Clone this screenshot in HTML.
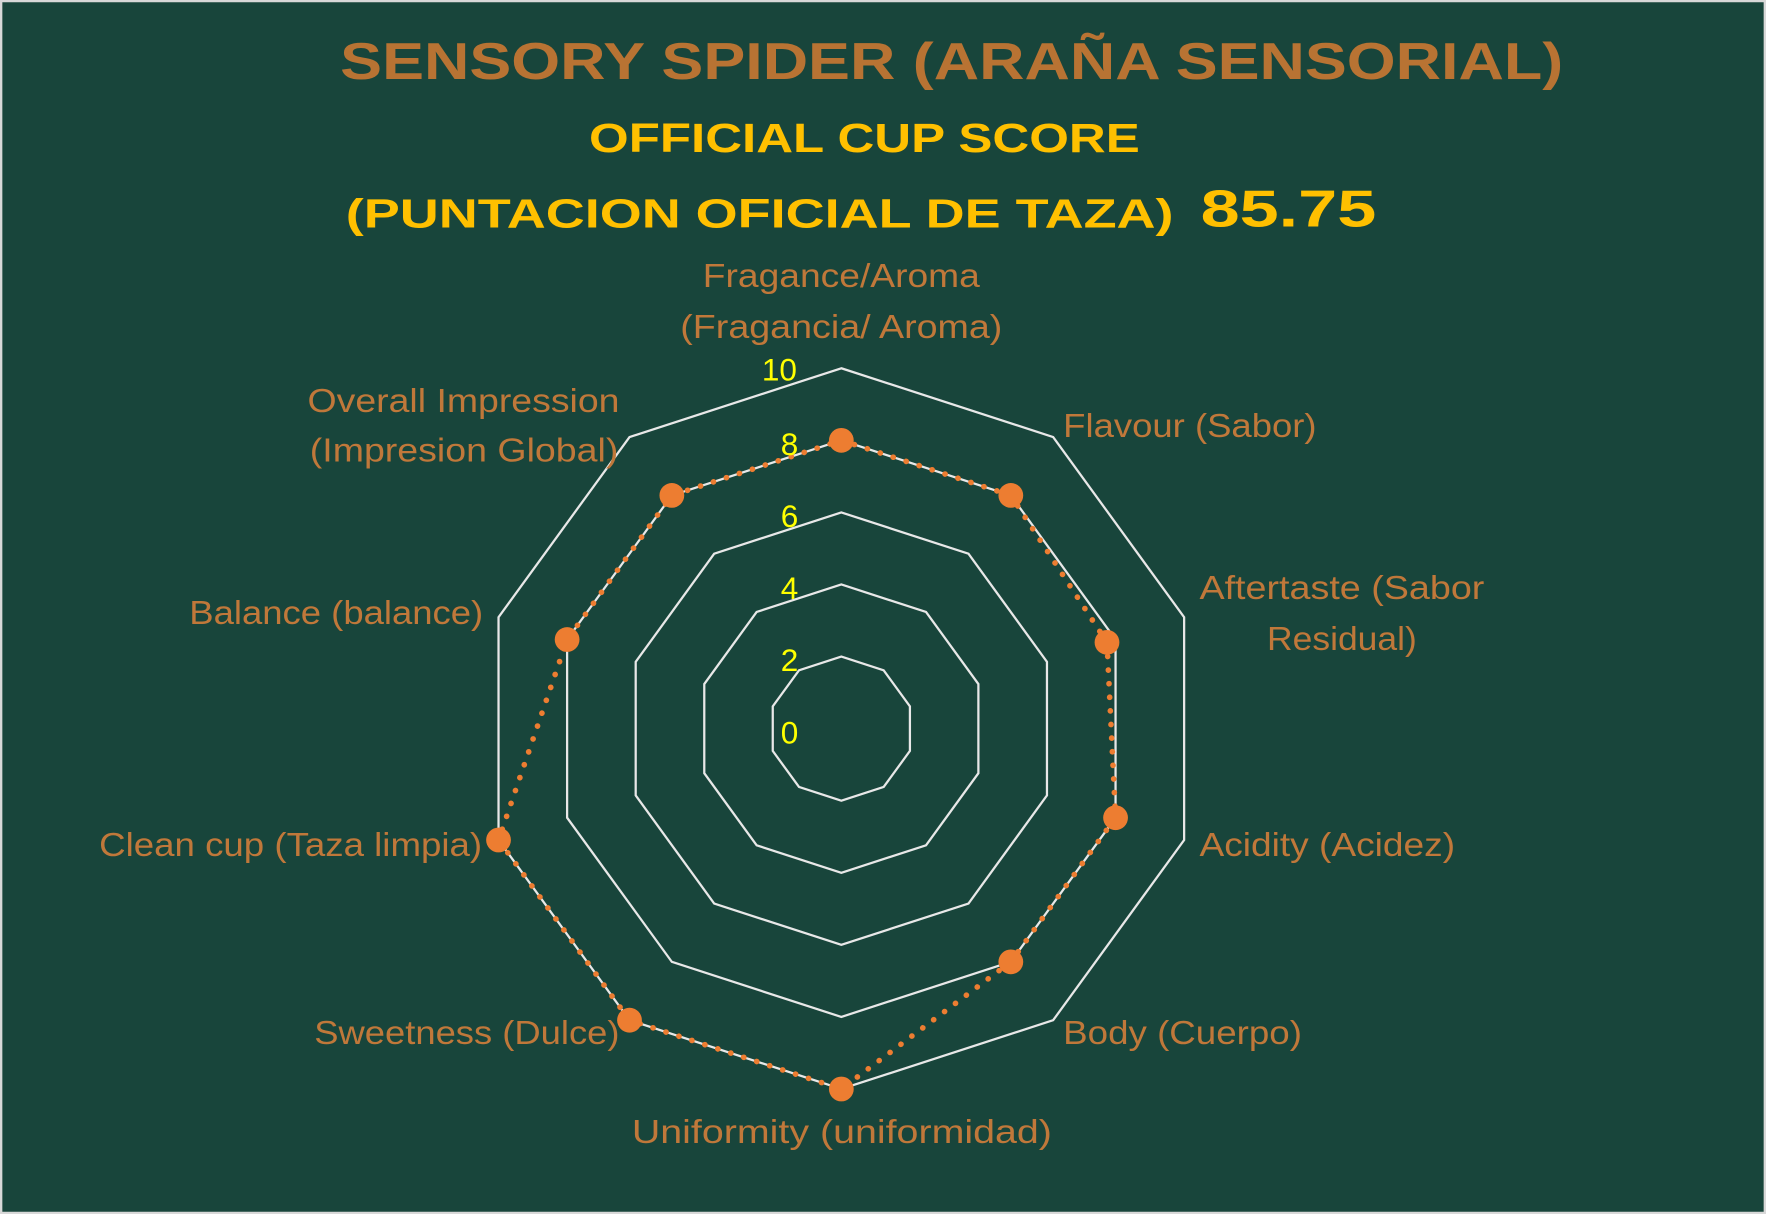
<!DOCTYPE html>
<html><head><meta charset="utf-8"><style>
html,body{margin:0;padding:0;background:#18453B;}
svg{display:block;}
</style></head><body>
<svg width="1766" height="1214" viewBox="0 0 1568 1078" xmlns="http://www.w3.org/2000/svg" font-family="'Liberation Sans', sans-serif">
<rect x="0" y="0" width="1568" height="1078" fill="#18453B" stroke="#d8d8d8" stroke-width="4"/>
<text x="302" y="70" font-size="46" font-weight="bold" fill="#B87333" textLength="1086" lengthAdjust="spacingAndGlyphs">SENSORY SPIDER (ARAÑA SENSORIAL)</text>
<text x="523" y="135" font-size="36" font-weight="bold" fill="#FFC000" textLength="489" lengthAdjust="spacingAndGlyphs">OFFICIAL CUP SCORE</text>
<text x="307" y="202" font-size="36" font-weight="bold" fill="#FFC000" textLength="735" lengthAdjust="spacingAndGlyphs">(PUNTACION OFICIAL DE TAZA)</text>
<text x="1066" y="201" font-size="46" font-weight="bold" fill="#FFC000" textLength="156" lengthAdjust="spacingAndGlyphs">85.75</text>
<g fill="none" stroke="#e8e8e8" stroke-width="2">
<polygon points="747,583 784.6,595.2 807.9,627.2 807.9,666.8 784.6,698.8 747,711 709.4,698.8 686.1,666.8 686.1,627.2 709.4,595.2"/>
<polygon points="747,519 822.2,543.4 868.7,607.4 868.7,686.6 822.2,750.6 747,775 671.8,750.6 625.3,686.6 625.3,607.4 671.8,543.4"/>
<polygon points="747,455 859.9,491.7 929.6,587.7 929.6,706.3 859.9,802.3 747,839 634.1,802.3 564.4,706.3 564.4,587.7 634.1,491.7"/>
<polygon points="747,391 897.5,439.9 990.5,567.9 990.5,726.1 897.5,854.1 747,903 596.5,854.1 503.5,726.1 503.5,567.9 596.5,439.9"/>
<polygon points="747,327 935.1,388.1 1051.4,548.1 1051.4,745.9 935.1,905.9 747,967 558.9,905.9 442.6,745.9 442.6,548.1 558.9,388.1"/>
</g>
<polygon points="747,391 897.5,439.9 982.9,570.4 990.5,726.1 897.5,854.1 747,967 558.9,905.9 442.6,745.9 503.5,567.9 596.5,439.9" fill="none" stroke="#ED7D31" stroke-width="5" stroke-linecap="round" stroke-dasharray="0.1 12"/>
<g fill="#ED7D31">
<circle cx="747" cy="391" r="11"/><circle cx="897.5" cy="439.9" r="11"/><circle cx="982.9" cy="570.4" r="11"/><circle cx="990.5" cy="726.1" r="11"/><circle cx="897.5" cy="854.1" r="11"/><circle cx="747" cy="967" r="11"/><circle cx="558.9" cy="905.9" r="11"/><circle cx="442.6" cy="745.9" r="11"/><circle cx="503.5" cy="567.9" r="11"/><circle cx="596.5" cy="439.9" r="11"/>
</g>
<g font-size="28" fill="#FFFF00" text-anchor="middle">
<text x="692" y="338">10</text><text x="701" y="404">8</text><text x="701" y="468">6</text><text x="701" y="532">4</text><text x="701" y="596">2</text><text x="701" y="660">0</text>
</g>
<g font-size="30" fill="#C0783A" lengthAdjust="spacingAndGlyphs">
<text x="624" y="255" textLength="246" lengthAdjust="spacingAndGlyphs">Fragance/Aroma</text>
<text x="604" y="300" textLength="286" lengthAdjust="spacingAndGlyphs">(Fragancia/ Aroma)</text>
<text x="944" y="388" textLength="225" lengthAdjust="spacingAndGlyphs">Flavour (Sabor)</text>
<text x="1065" y="532" textLength="253" lengthAdjust="spacingAndGlyphs">Aftertaste (Sabor</text>
<text x="1125" y="577" textLength="133" lengthAdjust="spacingAndGlyphs">Residual)</text>
<text x="1065" y="760" textLength="227" lengthAdjust="spacingAndGlyphs">Acidity (Acidez)</text>
<text x="944" y="927" textLength="212" lengthAdjust="spacingAndGlyphs">Body (Cuerpo)</text>
<text x="561" y="1015" textLength="373" lengthAdjust="spacingAndGlyphs">Uniformity (uniformidad)</text>
<text x="279" y="927" textLength="271" lengthAdjust="spacingAndGlyphs">Sweetness (Dulce)</text>
<text x="88" y="760" textLength="340" lengthAdjust="spacingAndGlyphs">Clean cup (Taza limpia)</text>
<text x="168" y="554" textLength="261" lengthAdjust="spacingAndGlyphs">Balance (balance)</text>
<text x="273" y="366" textLength="277" lengthAdjust="spacingAndGlyphs">Overall Impression</text>
<text x="275" y="410" textLength="274" lengthAdjust="spacingAndGlyphs">(Impresion Global)</text>
</g>
</svg>
</body></html>
